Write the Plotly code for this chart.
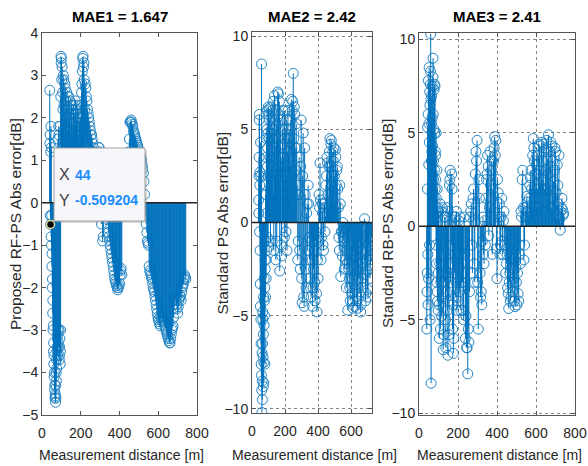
import plotly.graph_objects as go

# ---------------- data ----------------
distance_m = [
    40, 42, 44, 46, 48, 50, 52, 54, 56, 58, 60, 62, 64, 66, 68, 70, 72, 74, 76, 78,
    80, 82, 84, 86, 88, 90, 92, 94, 96, 98, 100,
    104, 108, 112, 116, 120, 124, 128, 132, 136, 140, 144, 148, 152, 156, 160, 164,
    168, 172, 176, 180, 184, 188, 192, 196, 200, 204, 208, 212, 216, 220,
    226, 232, 238, 244, 250, 256, 262, 268, 274, 280, 286, 292, 298, 304, 310, 316,
    322, 328, 334, 340, 346, 352, 358, 364, 370, 376, 382, 388, 394, 400, 406, 412,
    418, 424, 430, 436, 442, 448, 454, 460, 466, 472, 478, 484, 490, 496, 502, 508,
    514, 520, 526, 532, 538, 544, 550, 556, 562, 568, 574, 580, 586, 592, 598, 604,
    610, 616, 622, 628, 634, 640, 646, 652, 658, 664, 670, 676, 682, 688, 694, 700,
    706, 712, 718, 724, 730, 736, 742,
]
distance_m_b = [
    41, 43, 45, 47, 49, 51, 53, 55, 57, 59, 61, 63, 65, 67, 69, 71, 73, 75, 77, 79,
    81, 83, 85, 87, 89, 91, 93, 95, 97, 99,
    102, 106, 110, 114, 118, 122, 126, 130, 134, 138, 142, 146, 150, 154, 158, 162,
    166, 170, 174, 178, 182, 186, 190, 194, 198, 202, 206, 210, 214, 218,
    223, 229, 235, 241, 247, 253, 259, 265, 271, 277, 283, 289, 295, 301, 307, 313,
    319, 325, 331, 337, 343, 349, 355, 361, 367, 373, 379, 385, 391, 397, 403, 409,
    415, 421, 427, 433, 439, 445, 451, 457, 463, 469, 475, 481, 487, 493, 499, 505,
    511, 517, 523, 529, 535, 541, 547, 553, 559, 565, 571, 577, 583, 589, 595, 601,
    607, 613, 619, 625, 631, 637, 643, 649, 655, 661, 667, 673, 679, 685, 691, 697,
    703, 709, 715, 721, 727, 733, 739,
]

err_rf_ps = [
    2.65, 1.6, -0.509204, 1.8, 1.3, -0.3, -1.2, -1.8, -2.3, -2.9,
    -3.3, -3.6, -4.0, -4.3, -4.5, -4.7, -4.6, -4.2, -3.9, -3.4,
    -3.1, 1.5, -3.4, 1.8, -3.0, -3.6, -3.2, -3.8, -3.0, 3.45, 3.4,
    3.2, 2.2, 2.9, 1.6, 2.7, 2.0, 2.6, 1.4, 2.5, 1.9,
    2.4, 1.7, 2.3, 1.5, 2.2, 2.1, 1.8, 2.4, 2.3, 1.6,
    2.2, 1.4, 2.0, 1.9, 1.6, 2.6, 3.1, 3.45, 3.3, 2.2,
    2.7, 2.4, 2.1, 1.9, 1.7, 1.6, 1.4, 1.2, 1.0, 0.8,
    0.3, 1.3, 1.2, 0.6, -0.3, -0.8, 0.2, 0.0, -0.3, -0.5,
    -0.8, -1.0, -1.2, -1.4, -1.6, -1.8, -1.9, -2.0, -2.0, -1.9,
    -1.6, -1.7, 0.4, 0.6, 0.8, 0.9, 1.0, 1.2, 1.9, 1.95,
    1.85, 1.7, 1.6, 1.5, 1.4, 1.3, 1.2, 1.1, 1.0, 0.8,
    0.5, -0.2, -0.5, -0.9, -1.0, -1.6, -1.7, -1.8, -2.0, -2.1,
    -2.3, -2.5, -2.7, -2.8, -2.9, -2.6, -2.8, -2.7, -2.9, -3.0,
    -3.1, -3.2, -3.3, -3.2, -3.0, -2.9, -2.5, -2.2, -2.4, -2.6,
    -2.3, -2.2, -2.3, -2.0, -1.9, -1.7, -1.8,
]
err_rf_ps_b = [
    1.4, -0.3, 1.2, -0.8, -1.0, -1.5, -2.0, -2.6, -3.0, -3.5,
    -3.8, -4.1, -4.4, -4.6, -4.55, -4.3, -4.0, -3.7, -3.5, -3.2,
    -3.6, -3.0, -3.3, 1.6, -3.7, -3.4, 1.8, -3.5, 2.5, 3.3,
    2.9, 2.6, 3.0, 2.3, 2.8, 1.8, 2.4, 2.2, 1.7, 2.5,
    2.0, 1.5, 2.1, 1.9, 1.6, 2.3, 1.5, 2.1, 2.2, 1.9,
    1.7, 2.1, 1.5, 1.8, 2.0, 2.3, 2.8, 3.4, 3.2, 2.9,
    2.8, 2.5, 2.2, 2.0, 1.8, 1.6, 1.5, 1.3, 1.1, 0.9,
    0.6, 1.1, 1.3, 0.9, -0.5, -0.9, 0.3, 0.1, -0.2, -0.4,
    -0.7, -0.9, -1.1, -1.3, -1.5, -1.7, -1.85, -1.95, -2.05, -1.95,
    -1.7, -1.55, 0.3, 0.5, 0.7, 0.85, 0.95, 1.1, 1.5, 1.9,
    1.9, 1.8, 1.65, 1.55, 1.45, 1.35, 1.25, 1.15, 1.05, 0.9,
    0.7, 0.2, -0.3, -0.7, -0.95, -1.5, -1.65, -1.75, -1.9, -2.05,
    -2.2, -2.4, -2.6, -2.75, -2.85, -2.7, -2.75, -2.8, -2.8, -2.95,
    -3.05, -3.15, -3.25, -3.3, -3.1, -2.95, -2.7, -2.3, -2.3, -2.5,
    -2.45, -2.25, -2.2, -2.1, -1.95, -1.8, -1.75,
]

err_ps = [
    1.2, 2.5, 5.5, -0.5, 2.7, -3.3, 4.3, -5.2, -7.6, 8.5,
    -10.2, -8.5, -6.5, -5.2, -8.8, -4.0, -7.5, -3.0, -5.0, -7.6,
    -2.5, -4.0, 2.0, -3.0, 4.5, -1.5, 6.0, 3.0, 4.8, -1.3, 5.8,
    6.1, 3.5, -1.0, 4.8, 6.0, 2.0, 6.5, -1.5, 6.8, 4.0,
    -2.0, 5.2, 3.0, 7.0, 6.9, 1.0, -2.6, 5.5, 3.5, -1.8,
    4.2, 6.0, 2.0, -0.8, 4.5, 5.0, 2.5, -1.5, 3.8, 4.5,
    5.0, 3.0, 6.6, 6.0, 8.0, 6.2, 4.0, 5.3, 2.0, -1.0,
    3.5, -2.5, 5.5, -4.3, 4.8, -4.5, 1.5, -3.5, 1.0, 2.0,
    -0.8, -3.0, -4.0, -2.0, -3.5, -1.5, -4.2, -0.5, -4.8, -3.0,
    1.5, 3.2, -2.0, 1.0, -1.2, 0.8, -0.5, 2.0, 3.5, 1.5,
    3.0, 4.5, 4.2, 2.5, 3.8, 4.0, 1.0, 3.5, 2.8, 1.8,
    -0.8, 2.0, -2.9, -0.5, 0.0, -1.0, -0.3, -2.0, -1.5, -4.7,
    -2.5, -3.5, -0.5, -3.8, -4.2, -1.5, -4.5, -2.8, -4.0, -4.6,
    -3.0, -1.0, -4.8, -2.2, -3.5, -0.2, 0.2, -4.2, -2.0, -3.6,
    -1.2, -0.5, -2.3, -0.8, -1.5, -1.0, -0.6,
]
err_ps_b = [
    0.5, 3.5, 5.8, 2.0, -1.5, -4.5, 2.5, -6.5, -8.2, -9.0,
    -7.0, -9.5, -4.8, -7.2, -6.0, -8.6, -5.5, -4.2, -3.5, -2.0,
    -1.0, 1.5, -2.0, 3.5, 0.5, 5.0, -0.8, 4.0, 2.5, 6.2,
    4.5, 5.5, 2.5, 6.2, 3.0, 4.5, 5.0, 1.5, 3.8, 5.5,
    2.5, 6.0, -1.0, 4.5, 5.8, 3.0, 6.5, 2.0, 4.0, -1.2,
    3.0, 5.0, 3.5, 1.0, 6.0, 3.0, -0.5, 5.5, 2.0, 6.0,
    3.5, 4.5, 5.5, 2.5, 6.5, 4.5, 5.8, 2.8, 4.0, -2.0,
    1.5, -1.5, 3.0, -3.0, 2.5, -4.0, 4.0, -2.5, 0.5, -1.5,
    1.0, -2.0, -3.5, -1.0, -4.5, -2.5, -3.2, -1.0, -3.8, -2.0,
    -1.0, 0.8, 1.2, -0.8, 0.5, -1.5, 1.0, 0.3, 2.5, 3.2,
    0.8, 3.8, 3.0, 4.4, 2.0, 3.3, 2.5, 3.9, 2.0, 3.0,
    0.8, -1.5, 1.0, -0.5, -1.8, -0.8, -2.5, -0.6, -3.5, -2.2,
    -1.2, -3.0, -4.2, -2.0, -3.0, -4.6, -2.4, -3.6, -1.8, -4.2,
    -2.6, -3.8, -2.0, -4.4, -3.0, -1.5, -2.8, -1.0, -3.8, -2.6,
    -4.0, -1.8, -3.0, -2.0, -0.8, -1.8, -1.2,
]

err_rb_ps = [
    -5.5, -2.5, 5.3, -4.2, 7.8, 3.3, 8.5, -1.0, 6.5, 7.6,
    10.3, -8.4, 5.5, 4.0, 7.5, 2.0, 9.0, 3.5, 5.2, 1.5,
    7.6, 7.5, 4.0, 2.5, 5.0, -2.0, 3.0, -3.5, 1.0, -4.5, 0.8,
    -6.0, 1.2, -3.0, -4.8, 1.0, -6.6, -2.5, 0.5, -5.0, -3.5,
    1.0, -6.9, -4.0, 2.2, 3.0, -2.0, 2.8, -5.5, -6.8, 0.5,
    -1.5, -3.8, 0.8, -2.8, -4.0, 0.3, -3.5, -1.5, -3.2, -2.0,
    -4.5, 0.5, -6.0, -6.5, -7.9, -6.2, 0.5, 1.2, -2.5, 2.0,
    -3.0, 4.0, 4.6, -5.5, 1.5, -3.8, -4.2, 0.5, -2.0, -1.0,
    2.5, 3.8, -0.5, 4.0, 3.0, -1.5, 3.5, 4.8, 4.6, -2.8,
    1.8, 1.2, -1.0, 1.5, -1.5, 0.8, -0.3, -2.0, -3.3, -4.4,
    -2.5, -3.8, -1.5, -3.0, -4.0, -2.2, -4.2, -3.6, -1.5, -2.0,
    0.5, 3.0, -1.8, 1.0, 0.8, 1.3, 0.5, 2.2, 3.0, 0.8,
    4.7, 3.5, 2.0, 3.8, 1.0, 4.4, 3.0, 4.5, 2.5, 4.0,
    0.8, 4.2, 3.6, 4.9, 2.2, 4.5, 4.3, 1.5, 3.0, 4.0,
    0.5, 2.2, 3.8, -0.2, 1.0, 0.9, 0.7,
]
err_rb_ps_b = [
    -3.5, 2.0, -1.5, 6.0, -2.8, 5.5, 4.5, 7.2, -5.0, 8.3,
    6.8, 3.5, 7.0, 5.8, 4.3, 8.0, 6.0, 2.5, 7.3, 3.0,
    5.0, 2.0, 3.8, -1.0, 1.5, -3.0, 2.0, -4.0, 0.5, -2.5,
    -4.2, -2.0, -5.5, 0.8, -3.8, -1.5, -5.8, -3.0, 0.5, -6.5,
    -2.5, -4.5, 0.8, -5.8, 2.5, -3.0, -1.0, 2.0, -4.2, -6.0,
    -2.5, 0.5, -3.0, -4.5, -1.2, -3.8, -2.2, 0.5, -4.5, -3.0,
    -3.0, -5.0, -1.5, -4.8, -6.5, -5.5, -3.5, 0.8, -1.0, 1.5,
    -2.0, 2.8, 3.5, -3.0, 2.5, -2.5, -3.5, -0.8, -1.5, 0.3,
    1.5, 2.8, 3.2, 1.0, 2.2, 3.5, 2.0, 4.2, 3.8, -1.2,
    2.5, 0.5, -1.5, 0.5, -0.8, 0.3, -1.0, -2.5, -1.5, -3.6,
    -3.0, -4.0, -2.2, -3.5, -2.8, -4.3, -3.0, -2.5, -4.0, -1.0,
    0.8, 2.5, 1.0, -1.0, 0.5, 1.6, 0.8, 1.5, 2.6, 2.0,
    3.8, 4.2, 2.8, 3.3, 2.0, 3.8, 4.3, 1.8, 3.5, 4.4,
    2.0, 3.0, 4.6, 2.8, 4.0, 3.2, 1.0, 3.5, 2.4, 4.2,
    1.8, 3.3, 1.2, 0.4, 0.8, 1.5, 0.6,
]

titles = ["MAE1 = 1.647", "MAE2 = 2.42", "MAE3 = 2.41"]
y_titles = ["Proposed RF-PS Abs error[dB]", "Standard PS Abs error[dB]",
            "Standard RB-PS Abs error[dB]"]
x_title = "Measurement distance [m]"
tip_x = 44
tip_y = -0.509204

# ---------------- figure ----------------
W, H = 588, 466
def px(x):
    return x / W
def py(y):
    return 1 - y / H

BLUE = "#0072BD"
FONT = "Liberation Sans, Arial, sans-serif"

def stem_xy(d, v):
    xs, ys = [], []
    for a, b in zip(d, v):
        xs += [a, a, None]
        ys += [0, b, None]
    return xs, ys

series = [(err_rf_ps, err_rf_ps_b), (err_ps, err_ps_b), (err_rb_ps, err_rb_ps_b)]
# pixel boxes of the three axes: (left, right, top, bottom)
boxes = [(42, 197, 33, 415), (252, 372, 32, 413), (419, 575, 33, 415)]
xranges = [[0, 800], [0, 727], [0, 800]]
yranges = [[-5, 4], [-10.22, 10.22], [-10.1, 10.35]]
ydticks = [1, 5, 5]
grids = [False, True, True]

fig = go.Figure()
for i, (va, vb) in enumerate(series):
    xa = "x" if i == 0 else f"x{i+1}"
    ya = "y" if i == 0 else f"y{i+1}"
    d_all = distance_m + distance_m_b
    v_all = va + vb
    sx, sy = stem_xy(d_all, v_all)
    fig.add_trace(go.Scatter(x=sx, y=sy, mode="lines",
                             line=dict(color=BLUE, width=1),
                             xaxis=xa, yaxis=ya, hoverinfo="skip",
                             showlegend=False))
    fig.add_trace(go.Scatter(x=d_all, y=v_all, mode="markers",
                             marker=dict(symbol="circle-open", size=10,
                                         color=BLUE, line=dict(width=1, color=BLUE)),
                             opacity=0.85,
                             xaxis=xa, yaxis=ya, showlegend=False))

# data tip marker
fig.add_trace(go.Scatter(x=[tip_x], y=[tip_y], mode="markers",
                         marker=dict(size=8, color="black",
                                     line=dict(color="#e9df9a", width=1.5)),
                         xaxis="x", yaxis="y", showlegend=False))

layout = dict(width=W, height=H, autosize=False,
              margin=dict(l=0, r=0, t=0, b=0, pad=0),
              paper_bgcolor="white", plot_bgcolor="white",
              font=dict(family=FONT, color="#262626", size=14),
              showlegend=False)

shapes = []
annotations = []
for i in range(3):
    l, r, t, b = boxes[i]
    sfx = "" if i == 0 else str(i + 1)
    common = dict(showline=True, linecolor="#555555", linewidth=1, mirror="ticks",
                  ticks="inside", ticklen=4, tickcolor="#555555",
                  tickfont=dict(size=14, color="#262626", family=FONT),
                  zeroline=False, showgrid=grids[i], automargin=False,
                  gridcolor="rgba(50,50,50,0.6)", griddash="dot", gridwidth=1)
    layout["xaxis" + sfx] = dict(domain=[px(l), px(r)], range=xranges[i],
                                 anchor="y" + sfx, dtick=200, tick0=0,
                                 ticklabelstandoff=5, **common)
    layout["yaxis" + sfx] = dict(domain=[py(b), py(t)], range=yranges[i],
                                 anchor="x" + sfx, dtick=ydticks[i], tick0=0,
                                 **common)
    # stem baseline
    shapes.append(dict(type="line", xref=f"x{sfx} domain", yref="y" + sfx,
                       x0=0, x1=1, y0=0, y1=0, layer="above",
                       line=dict(color="#222222", width=1.5)))
    cx = (l + r) / 2
    annotations.append(dict(text="<b>" + titles[i] + "</b>", x=px(cx), y=py(16),
                            xref="paper", yref="paper", showarrow=False,
                            xanchor="center", yanchor="middle",
                            font=dict(size=15, color="black", family=FONT)))
    annotations.append(dict(text=x_title, x=px(cx + 2), y=py(455),
                            xref="paper", yref="paper", showarrow=False,
                            xanchor="center", yanchor="middle",
                            font=dict(size=14, color="#262626", family=FONT)))

ytitle_x = [16, 222, 388]
for i in range(3):
    l, r, t, b = boxes[i]
    annotations.append(dict(text=y_titles[i], x=px(ytitle_x[i]), y=py((t + b) / 2),
                            xref="paper", yref="paper", showarrow=False,
                            textangle=-90, xanchor="center", yanchor="middle",
                            font=dict(size=15.5, color="#262626", family=FONT)))

# data tip box
shapes.append(dict(type="rect", xref="paper", yref="paper",
                   x0=px(56), x1=px(147), y0=py(223), y1=py(150),
                   fillcolor="rgba(150,150,150,0.35)", line=dict(width=0),
                   layer="above"))
shapes.append(dict(type="rect", xref="paper", yref="paper",
                   x0=px(54), x1=px(145), y0=py(221), y1=py(148),
                   fillcolor="#f7f7fb", line=dict(color="#a0a0a0", width=1),
                   layer="above"))
annotations += [
    dict(text="X", x=px(64), y=py(175), xref="paper", yref="paper", showarrow=False,
         xanchor="center", yanchor="middle", font=dict(size=16, color="#404040", family=FONT)),
    dict(text="<b>%g</b>" % tip_x, x=px(73), y=py(175), xref="paper", yref="paper",
         showarrow=False, xanchor="left", yanchor="middle",
         font=dict(size=14, color="#1a8cff", family=FONT)),
    dict(text="Y", x=px(64), y=py(200), xref="paper", yref="paper", showarrow=False,
         xanchor="center", yanchor="middle", font=dict(size=16, color="#404040", family=FONT)),
    dict(text="<b>%.6f</b>" % tip_y, x=px(73), y=py(200), xref="paper", yref="paper",
         showarrow=False, xanchor="left", yanchor="middle",
         font=dict(size=14, color="#1a8cff", family=FONT)),
]

layout["shapes"] = shapes
layout["annotations"] = annotations
fig.update_layout(**layout)
fig.write_html("out.html", config={"displayModeBar": False},
               post_script="document.documentElement.style.margin='0';"
                           "document.body.style.margin='0';"
                           "document.body.style.padding='0';"
                           "document.body.style.overflow='hidden';")
